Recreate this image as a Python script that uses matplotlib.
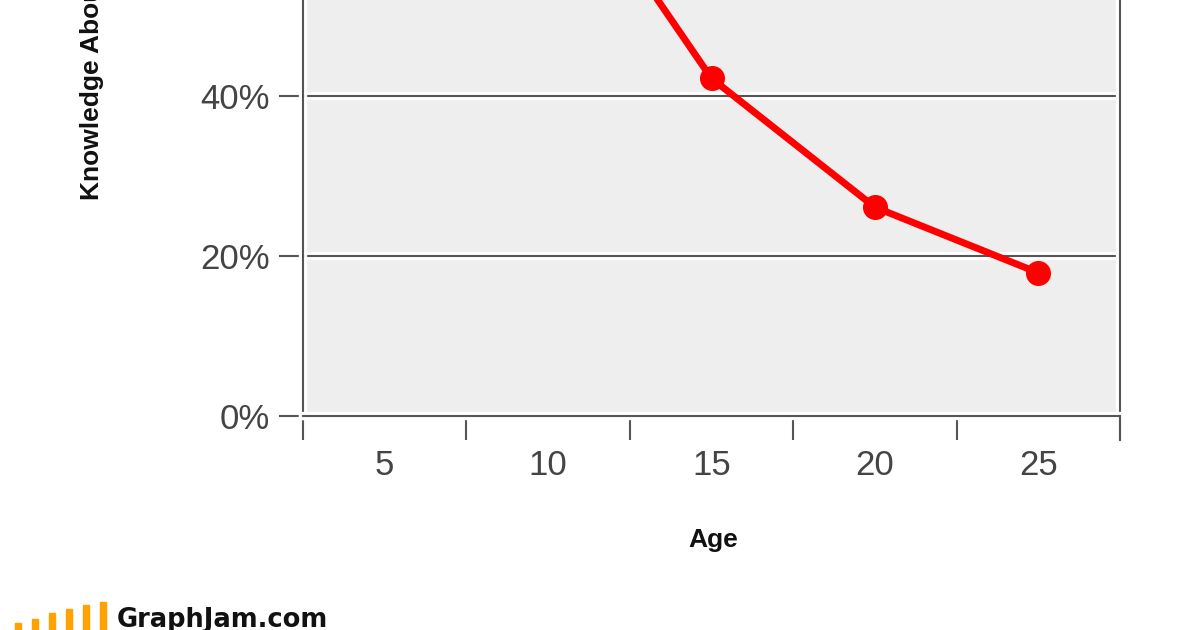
import numpy as np
import matplotlib
matplotlib.use("Agg")
import matplotlib.pyplot as plt
import matplotlib.patheffects as pe
from matplotlib.patches import Rectangle

# values (first point is above the visible crop, guessed)
ages = ["5", "10", "15", "20", "25"]
knowledge = [95, 72, 42.2, 26.1, 17.9]
grid_vals = [20, 40, 60, 80]
ytick_vals = [0, 20, 40]          # only these labels are inside the crop
ytick_labels = ["0%", "20%", "40%"]

plt.rcParams['font.family'] = ['Liberation Sans', 'DejaVu Sans']

fig = plt.figure(figsize=(12, 6.3), dpi=100)
fig.patch.set_facecolor('white')

# axes runs past the top of the figure (reference is a crop)
ax = fig.add_axes([303/1200, 214/630, 817/1200, 800/630])
ax.set_facecolor('#eeeeee')

axis_col = '#555555'
halo = [pe.withStroke(linewidth=6, foreground='white')]

x = np.arange(len(ages)) + 0.5
ax.plot(x, knowledge, color='#ff0000', lw=5, marker='o', ms=17,
        solid_capstyle='round', zorder=5, clip_on=False)

ax.set_xlim(0, len(ages))
ax.set_ylim(0, 100)

ax.set_yticks(ytick_vals)
ax.set_yticklabels(ytick_labels)
ax.set_xticks(np.arange(len(ages) + 1))
ax.set_xticklabels([])
ax.set_xticks(x, minor=True)
ax.set_xticklabels(ages, minor=True)

ax.tick_params(axis='both', which='major', direction='out', length=17,
               width=1.5, color=axis_col, labelsize=25, labelcolor='#444444')
ax.tick_params(axis='y', pad=7)
ax.tick_params(axis='x', which='minor', length=0, pad=24,
               labelsize=25, labelcolor='#444444')

for g in grid_vals:
    ax.axhline(g, color=axis_col, lw=1.5, zorder=2, path_effects=halo)

for side in ['left', 'right', 'bottom']:
    ax.spines[side].set_color(axis_col)
    ax.spines[side].set_linewidth(1.5)
    ax.spines[side].set_path_effects(halo)
ax.spines['top'].set_visible(False)

# right edge also has a tick below the axis
ax.plot([len(ages), len(ages)], [0, -3], color=axis_col, lw=1.5,
        clip_on=False, zorder=3)

fig.text(713/1200, 1 - 547/630, "Age", ha='center', va='baseline',
         fontsize=19, fontweight='bold', color='#111111')
fig.text(92/1200, 1 - 200/630, "Knowledge About Everything", rotation=90,
         ha='center', va='bottom', fontsize=19, fontweight='bold',
         color='#111111')

# GraphJam logo
bar_x = [15, 32, 49, 66, 83, 100]
bar_top = [623, 619, 613, 609, 605, 602]
for bx, bt in zip(bar_x, bar_top):
    fig.patches.append(Rectangle((bx/1200, 0), 6/1200, (630 - bt)/630,
                                 transform=fig.transFigure,
                                 color='#ffa200', zorder=1))
fig.text(117/1200, 1 - 627/630, "GraphJam.com", ha='left', va='baseline',
         fontsize=18.5, fontweight='bold', family=['DejaVu Sans'],
         color='#111111')

fig.savefig("out.png", dpi=100)
